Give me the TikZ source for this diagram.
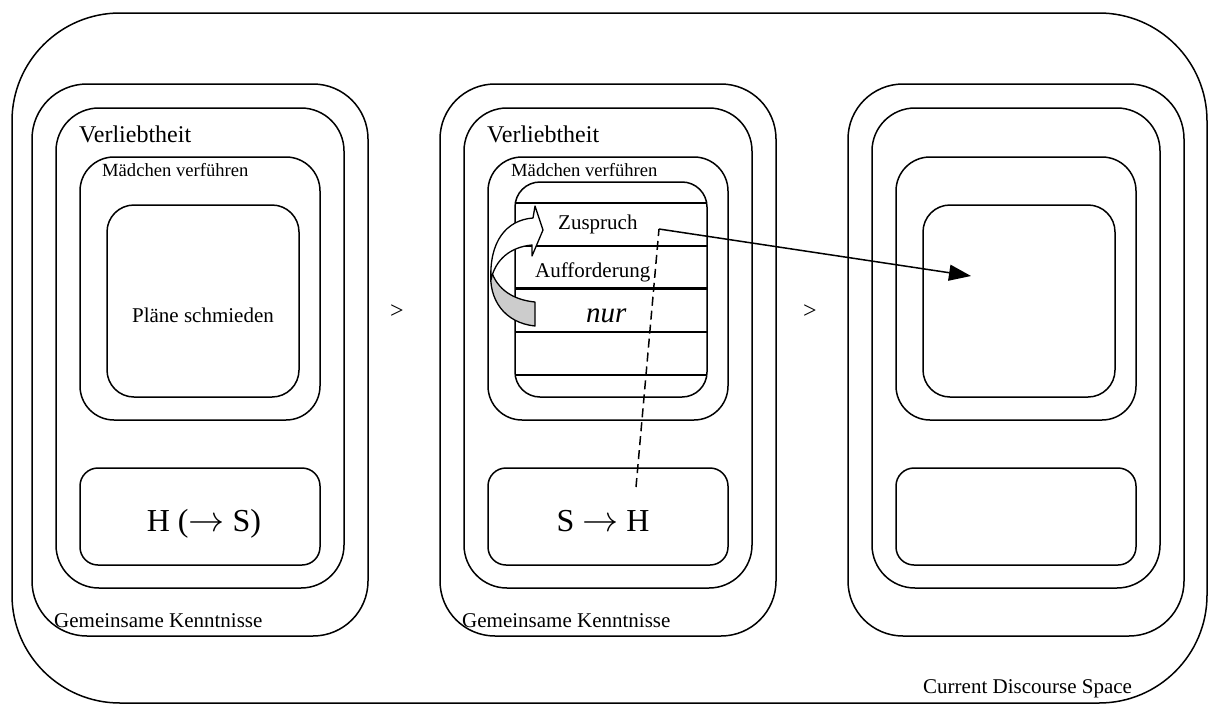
\documentclass[tikz,border=0pt]{standalone}
\usepackage{graphicx}
\usepackage{fontspec}
\setmainfont{Liberation Serif}
\usetikzlibrary{arrows.meta}
\newcommand\bigto{\scalebox{1.45}{$\rightarrow$}}
\begin{document}
\begin{tikzpicture}[x=1pt,y=-1pt,
  roundbox/.style={draw, line width=1.5pt, rounded corners=#1, inner sep=0pt},
  lbl/.style={inner sep=0pt, anchor=base west},
  bigtxt/.style={font=\fontsize{24}{28}\selectfont},
  midtxt/.style={font=\fontsize{21}{25}\selectfont},
  smalltxt/.style={font=\fontsize{18.6}{22}\selectfont},
  hugetxt/.style={font=\fontsize{32}{36}\selectfont},
  slat/.style={line width=1.5pt},
  bendarrow/.style={draw, line width=1.3pt, line join=round}]
\useasboundingbox (0,0) rectangle (1209,704);

% the whole discourse space
\node[roundbox=108pt, minimum width=1195pt, minimum height=690pt] (space) at (609.5,358) {};

% three nested panels
\foreach \p/\ox in {A/0,B/408,C/816}{
  \node[roundbox=55pt, minimum width=336pt, minimum height=552pt] (outer\p) at (200+\ox,360) {};
  \node[roundbox=43pt, minimum width=288pt, minimum height=480pt] (inner\p) at (200+\ox,348) {};
  \node[roundbox=34pt, minimum width=240pt, minimum height=263pt] (mid\p) at (200+\ox,288.5) {};
  \node[roundbox=18pt, minimum width=240pt, minimum height=97pt] (low\p) at (200+\ox,516.5) {};
}
\node[roundbox=27pt, minimum width=192pt, minimum height=192pt] (coreA) at (203,301) {};
\node[roundbox=27pt, minimum width=192pt, minimum height=192pt] (coreC) at (1019,301) {};
\node[roundbox=25pt, minimum width=192pt, minimum height=215pt] (slatbox) at (611,289.5) {};

% stacked rows of the middle panel
\foreach \y in {203,332,375} \draw[slat] (515,\y) -- (707,\y);
\draw[line width=1.9pt] (515,246) -- (707,246);
\draw[line width=3pt] (515,288) -- (707,288);

% curved ribbon arrow: shaded back, then white front
\path[bendarrow, fill=black!20]
  (491,270) .. controls (488,300) and (505,323) .. (535,326)
  -- (535,302) .. controls (514,300) and (497,290) .. cycle;
\path[bendarrow, fill=white]
  (533,218) .. controls (506,220) and (489,242) .. (491,280)
  .. controls (495,260) and (510,247) .. (532,245)
  -- (532,256) -- (543,230) -- (535,206) -- cycle;

% labels
\node[lbl, bigtxt] (verlA) at (79,142) {Verliebtheit};
\node[lbl, bigtxt] (verlB) at (487,142) {Verliebtheit};
\node[lbl, smalltxt] (maedA) at (102,176) {Mädchen verführen};
\node[lbl, smalltxt] (maedB) at (511,176) {Mädchen verführen};
\node[inner sep=0pt, anchor=base, midtxt] (plaene) at (203,322) {Pläne schmieden};
\node[inner sep=0pt, anchor=base, hugetxt] (hs) at (204,531) {H (\bigto{} S)};
\node[inner sep=0pt, anchor=base, hugetxt] (sh) at (603,531) {S \bigto{} H};
\node[lbl, midtxt] (zuspruch) at (558,229) {Zuspruch};
\node[lbl, midtxt] (auff) at (535,277) {Aufforderung};
\node[lbl, font=\fontsize{29}{33}\selectfont\itshape] (nur) at (586,322) {nur};
\node[lbl, midtxt] (gemA) at (54,627) {Gemeinsame Kenntnisse};
\node[lbl, midtxt] (gemB) at (462,627) {Gemeinsame Kenntnisse};
\node[lbl, midtxt] (cds) at (923,693) {Current Discourse Space};
\node[inner sep=0pt, bigtxt] (gt1) at (397,312) {>};
\node[inner sep=0pt, bigtxt] (gt2) at (810,312) {>};

% reference link from the row into the empty space
\coordinate (dashfoot) at (636,487);
\coordinate (bend) at (659,229);
\coordinate (target) at (971,276);
\draw[line width=1.5pt, dash pattern=on 9pt off 5pt] (dashfoot) -- (bend);
\draw[line width=1.5pt, -{Triangle[length=22pt, width=16pt]}] (bend) -- (target);
\end{tikzpicture}
\end{document}
